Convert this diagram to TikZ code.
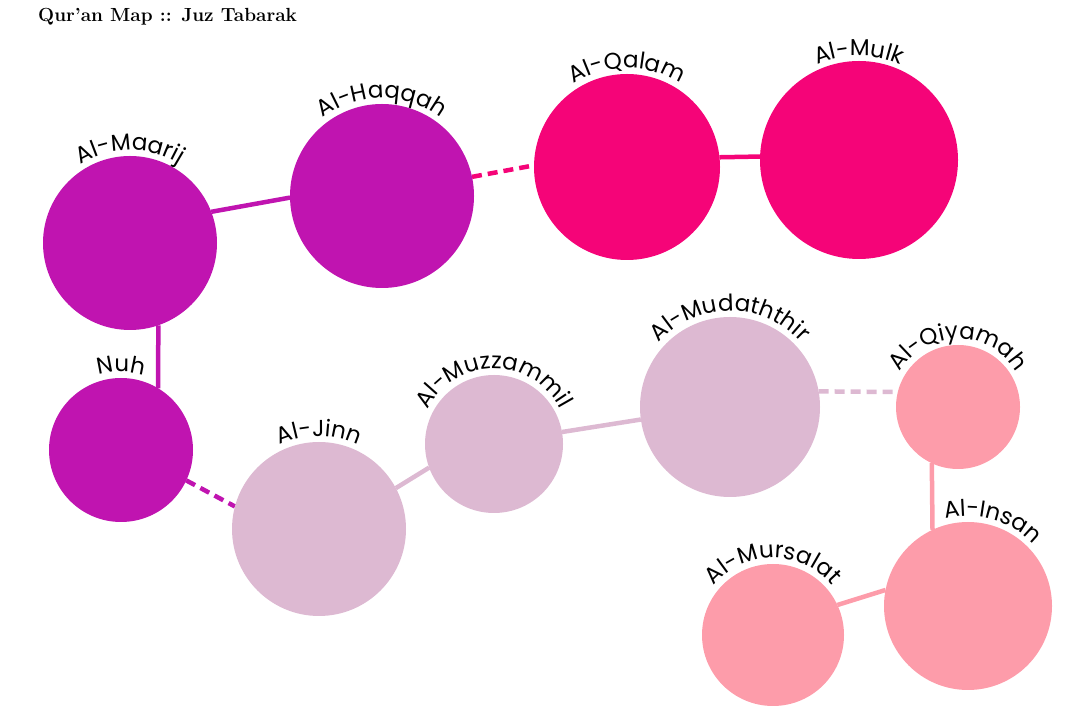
\documentclass[tikz,border=0pt]{standalone}
\usepackage{fontspec}
\usetikzlibrary{decorations.text,backgrounds}
\newfontfamily\lblfont{Poppins}
\definecolor{cpurple}{RGB}{192,20,176}
\definecolor{cmagenta}{RGB}{245,4,120}
\definecolor{clilac}{RGB}{221,185,210}
\definecolor{cpink}{RGB}{253,156,170}
\newcommand\surahlabel[4]{%
  \path[decorate,decoration={text along path,text align=center,
    text={|\lblfont\fontsize{23}{23}\selectfont|#2}}]
    (#1.center) ++({#3+85}:#4) arc[start angle={#3+85},end angle={#3-85},radius=#4];}
\tikzset{
  surah/.style={circle,inner sep=0pt,outer sep=0pt,minimum size=#1},
  link/.style={line width=4.5pt},
  dlink/.style={line width=4.5pt,dash pattern=on 10pt off 6pt},
}
\begin{document}
\begin{tikzpicture}[x=1pt,y=1pt]
\useasboundingbox (0,0) rectangle (1081,706);
\node[anchor=base west,inner sep=0pt,font=\bfseries\fontsize{19}{19}\selectfont] (title) at (38,684) {Qur'an Map :: Juz Tabarak};
% circles
\node[surah=174pt,fill=cpurple] (maarij) at (130,463) {};
\node[surah=184pt,fill=cpurple] (haqqah) at (382,510) {};
\node[surah=186pt,fill=cmagenta] (qalam) at (627,539) {};
\node[surah=198pt,fill=cmagenta] (mulk) at (859,546) {};
\node[surah=144pt,fill=cpurple] (nuh) at (121,256) {};
\node[surah=174pt,fill=clilac] (jinn) at (319,177) {};
\node[surah=138pt,fill=clilac] (muzz) at (494,262) {};
\node[surah=180pt,fill=clilac] (mudd) at (730,299) {};
\node[surah=124pt,fill=cpink] (qiy) at (958,299) {};
\node[surah=168pt,fill=cpink] (insan) at (968,100) {};
\node[surah=142pt,fill=cpink] (murs) at (773,71) {};
% connectors
\begin{scope}[on background layer]
\draw[link,cpurple] (maarij.21) -- (haqqah.181);
\draw[dlink,cmagenta] (haqqah.12) -- (qalam.179);
\draw[link,cmagenta] (qalam.6) -- (mulk.178);
\draw[link,cpurple] (maarij.-71) -- (nuh.59);
\draw[dlink,cpurple] (nuh.-25) -- (jinn.165);
\draw[link,clilac] (jinn.28) -- (muzz.200);
\draw[link,clilac] (muzz.10) -- (mudd.188);
\draw[dlink,clilac] (mudd.10) -- (qiy.166);
\draw[link,cpink] (qiy.-115) -- (insan.115);
\draw[link,cpink] (insan.169) -- (murs.25);
\end{scope}
% labels
\surahlabel{maarij}{Al-Maarij}{90}{93}
\surahlabel{haqqah}{Al-Haqqah}{90}{98}
\surahlabel{qalam}{Al-Qalam}{90}{99}
\surahlabel{mulk}{Al-Mulk}{90}{104}
\surahlabel{nuh}{Nuh}{90}{78}
\surahlabel{jinn}{Al-Jinn}{90}{93}
\surahlabel{muzz}{Al-Muzzammil}{90}{75}
\surahlabel{mudd}{Al-Mudaththir}{90}{96}
\surahlabel{qiy}{Al-Qiyamah}{90}{68}
\surahlabel{insan}{Al-Insan}{74}{90}
\surahlabel{murs}{Al-Mursalat}{90}{77}
\end{tikzpicture}
\end{document}
